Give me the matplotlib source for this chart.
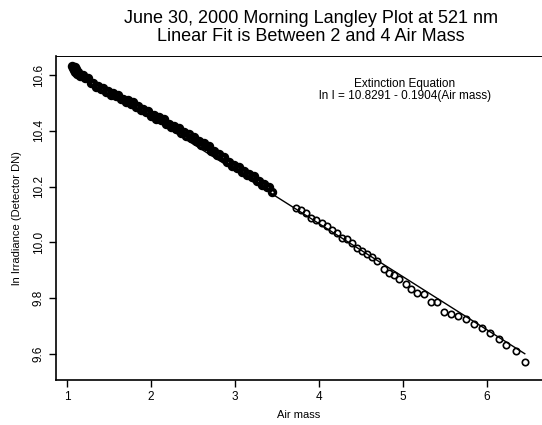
import matplotlib
matplotlib.use("Agg")
import matplotlib.pyplot as plt
import numpy as np

plt.rcParams['font.family'] = ['Liberation Sans', 'DejaVu Sans']

# fit coefficients (from the equation printed on the chart)
intercept = 10.8291
slope = -0.1904

# dense morning measurements, air mass 1.06 - 3.44
dense_air = [1.06, 1.07, 1.08, 1.09, 1.10, 1.11, 1.12, 1.13, 1.16, 1.19,
             1.22, 1.25, 1.28, 1.31, 1.34, 1.37, 1.40, 1.43, 1.46, 1.49,
             1.52, 1.55, 1.58, 1.61, 1.64, 1.67, 1.70, 1.73, 1.76, 1.79,
             1.82, 1.85, 1.88, 1.91, 1.94, 1.97, 2.00, 2.03, 2.06, 2.09,
             2.12, 2.15, 2.18, 2.21, 2.24, 2.27, 2.30, 2.33, 2.36, 2.39,
             2.42, 2.45, 2.48, 2.51, 2.54, 2.57, 2.60, 2.63, 2.66, 2.69,
             2.72, 2.75, 2.78, 2.81, 2.84, 2.87, 2.90, 2.93, 2.96, 2.99,
             3.02, 3.05, 3.08, 3.11, 3.14, 3.17, 3.20, 3.23, 3.26, 3.29,
             3.32, 3.35, 3.38, 3.41, 3.44]
dense_ln = [10.634, 10.627, 10.618, 10.628, 10.610, 10.620, 10.604, 10.610, 10.596, 10.600,
            10.588, 10.589, 10.572, 10.573, 10.558, 10.562, 10.551, 10.554, 10.539, 10.542,
            10.529, 10.535, 10.524, 10.528, 10.513, 10.515, 10.503, 10.509, 10.498, 10.502,
            10.486, 10.488, 10.475, 10.480, 10.468, 10.471, 10.455, 10.457, 10.444, 10.449,
            10.438, 10.441, 10.425, 10.426, 10.413, 10.418, 10.407, 10.410, 10.393, 10.395,
            10.382, 10.387, 10.376, 10.378, 10.362, 10.364, 10.351, 10.356, 10.344, 10.347,
            10.329, 10.329, 10.314, 10.317, 10.305, 10.306, 10.288, 10.288, 10.273, 10.277,
            10.266, 10.269, 10.253, 10.255, 10.242, 10.247, 10.236, 10.238, 10.220, 10.221,
            10.206, 10.210, 10.197, 10.199, 10.181]

# sparser measurements at high air mass
sparse_air = [3.73, 3.79, 3.85, 3.91, 3.97, 4.03, 4.09, 4.15, 4.21, 4.27,
              4.33, 4.39, 4.45, 4.51, 4.57, 4.63, 4.69, 4.77, 4.83, 4.89,
              4.95, 5.04, 5.10, 5.17, 5.25, 5.33, 5.40, 5.49, 5.57, 5.66,
              5.75, 5.84, 5.94, 6.04, 6.14, 6.23, 6.35, 6.45]
sparse_ln = [10.124, 10.117, 10.106, 10.088, 10.082, 10.070, 10.058, 10.046, 10.035, 10.017,
             10.011, 9.999, 9.981, 9.969, 9.957, 9.949, 9.933, 9.904, 9.892, 9.882,
             9.868, 9.850, 9.832, 9.820, 9.814, 9.785, 9.785, 9.751, 9.745, 9.737,
             9.725, 9.707, 9.692, 9.677, 9.654, 9.632, 9.612, 9.573]

all_air = np.array(dense_air + sparse_air)

fig = plt.figure(figsize=(5.42, 4.25), dpi=100)
ax = fig.add_axes([0.1033, 0.106, 0.8967, 0.762])

# the dense run overlaps into a solid band in the original
ax.plot(dense_air, dense_ln, 'o', mfc='none', mec='black', ms=4.2, mew=2.6)
ax.plot(sparse_air, sparse_ln, 'o', mfc='none', mec='black', ms=4.6, mew=1.2)
xfit = np.array([all_air.min(), all_air.max()])
ax.plot(xfit, intercept + slope * xfit, color='black', lw=1.0)

ax.set_xlim(0.869, 6.655)
ax.set_ylim(9.507, 10.668)
ax.set_xticks([1, 2, 3, 4, 5, 6])
ax.set_yticks([9.6, 9.8, 10.0, 10.2, 10.4, 10.6])
ax.set_yticklabels(['9.6', '9.8', '10.0', '10.2', '10.4', '10.6'], rotation=90, va='center')
ax.tick_params(direction='out', length=5, width=1, labelsize=8.5, pad=3)

ax.spines['right'].set_visible(False)
ax.spines['top'].set_linewidth(0.7)
ax.spines['left'].set_linewidth(1.2)
ax.spines['bottom'].set_linewidth(1.2)

ax.set_xlabel('Air mass', fontsize=8, labelpad=5)
ax.set_ylabel('ln Irradiance (Detector DN)', fontsize=8, labelpad=8)

fig.text(0.574, 0.956, 'June 30, 2000 Morning Langley Plot at 521 nm',
         ha='center', va='center', fontsize=13)
fig.text(0.574, 0.914, 'Linear Fit is Between 2 and 4 Air Mass',
         ha='center', va='center', fontsize=13)

ax.text(0.718, 0.914, 'Extinction Equation', transform=ax.transAxes,
        ha='center', va='center', fontsize=8.5)
ax.text(0.718, 0.877, 'ln I = %.4f - %.4f(Air mass)' % (intercept, -slope),
        transform=ax.transAxes, ha='center', va='center', fontsize=8.5)

fig.savefig('out.png', dpi=100)
